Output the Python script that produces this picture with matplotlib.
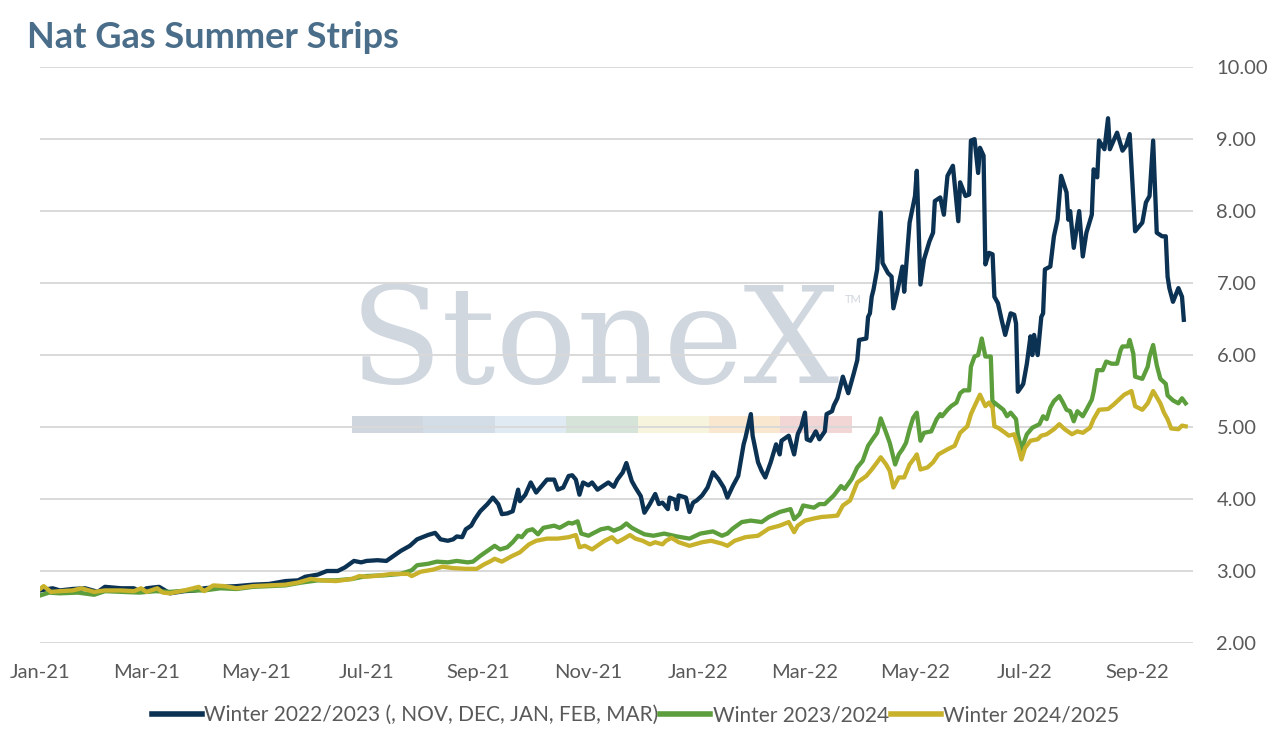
import pandas as pd
import matplotlib.pyplot as plt
import matplotlib.dates as mdates
from matplotlib.patches import Rectangle
from matplotlib.lines import Line2D

# Winter 2022/2023 strip
w22_dates = ["2021-01-01","2021-01-08","2021-01-12","2021-01-19","2021-01-26","2021-02-02","2021-02-06","2021-02-15",
             "2021-02-22","2021-02-26","2021-03-01","2021-03-08","2021-03-14","2021-03-22","2021-03-28","2021-04-02",
             "2021-04-11","2021-04-20","2021-04-29","2021-05-08","2021-05-17","2021-05-24","2021-05-28","2021-06-04",
             "2021-06-09","2021-06-15","2021-06-19","2021-06-24","2021-06-28","2021-07-01","2021-07-07","2021-07-12",
             "2021-07-16","2021-07-20","2021-07-25","2021-07-29","2021-08-04","2021-08-08","2021-08-11","2021-08-15",
             "2021-08-18","2021-08-20","2021-08-23","2021-08-25","2021-08-28","2021-08-30","2021-09-02","2021-09-06",
             "2021-09-09","2021-09-12","2021-09-14","2021-09-17","2021-09-20","2021-09-23","2021-09-24","2021-09-27",
             "2021-09-30","2021-10-03","2021-10-06","2021-10-09","2021-10-13","2021-10-15","2021-10-18","2021-10-21",
             "2021-10-23","2021-10-25","2021-10-27","2021-10-29","2021-11-01","2021-11-03","2021-11-06","2021-11-09",
             "2021-11-12","2021-11-15","2021-11-17","2021-11-20","2021-11-22","2021-11-25","2021-11-27","2021-11-30",
             "2021-12-02","2021-12-05","2021-12-08","2021-12-10","2021-12-12","2021-12-15","2021-12-16","2021-12-19",
             "2021-12-20","2021-12-21","2021-12-25","2021-12-27","2021-12-29","2021-12-31","2022-01-03","2022-01-06",
             "2022-01-09","2022-01-12","2022-01-15","2022-01-17","2022-01-20","2022-01-23","2022-01-26","2022-01-27",
             "2022-01-30","2022-01-31","2022-02-03","2022-02-05","2022-02-07","2022-02-10","2022-02-13","2022-02-15",
             "2022-02-16","2022-02-20","2022-02-23","2022-02-25","2022-02-27","2022-03-01","2022-03-02","2022-03-04",
             "2022-03-07","2022-03-09","2022-03-12","2022-03-13","2022-03-16","2022-03-17","2022-03-19","2022-03-22",
             "2022-03-25","2022-03-28","2022-03-30","2022-03-31","2022-04-04","2022-04-05","2022-04-06","2022-04-07",
             "2022-04-08","2022-04-10","2022-04-12","2022-04-13","2022-04-16","2022-04-18","2022-04-19","2022-04-21",
             "2022-04-24","2022-04-25","2022-04-28","2022-05-01","2022-05-02","2022-05-04","2022-05-06","2022-05-09",
             "2022-05-11","2022-05-12","2022-05-15","2022-05-17","2022-05-19","2022-05-22","2022-05-25","2022-05-26",
             "2022-05-29","2022-05-31","2022-06-01","2022-06-03","2022-06-05","2022-06-06","2022-06-08","2022-06-09",
             "2022-06-11","2022-06-13","2022-06-14","2022-06-16","2022-06-18","2022-06-20","2022-06-23","2022-06-25",
             "2022-06-26","2022-06-27","2022-06-29","2022-06-30","2022-07-02","2022-07-04","2022-07-05","2022-07-06",
             "2022-07-08","2022-07-10","2022-07-11","2022-07-12","2022-07-15","2022-07-17","2022-07-19","2022-07-21",
             "2022-07-24","2022-07-25","2022-07-26","2022-07-28","2022-07-31","2022-08-02","2022-08-04","2022-08-07",
             "2022-08-08","2022-08-10","2022-08-11","2022-08-14","2022-08-16","2022-08-17","2022-08-21","2022-08-24",
             "2022-08-26","2022-08-28","2022-08-31","2022-09-04","2022-09-06","2022-09-08","2022-09-10","2022-09-12",
             "2022-09-15","2022-09-17","2022-09-18","2022-09-19","2022-09-21","2022-09-24","2022-09-26","2022-09-27"]
w22_vals = [2.73,2.76,2.73,2.75,2.76,2.71,2.78,2.76,
            2.76,2.71,2.76,2.78,2.69,2.72,2.73,2.76,
            2.78,2.79,2.81,2.82,2.86,2.87,2.92,2.95,
            3.00,3.00,3.05,3.14,3.12,3.14,3.15,3.14,
            3.21,3.28,3.35,3.44,3.50,3.53,3.44,3.42,
            3.44,3.48,3.47,3.58,3.63,3.72,3.83,3.93,
            4.02,3.93,3.79,3.80,3.83,4.13,3.97,4.06,
            4.23,4.09,4.18,4.27,4.27,4.13,4.16,4.32,
            4.33,4.27,4.06,4.23,4.19,4.23,4.13,4.18,
            4.23,4.17,4.27,4.37,4.50,4.25,4.16,4.04,
            3.81,3.93,4.07,3.93,3.95,3.86,4.02,3.99,
            3.86,4.05,4.02,3.82,3.95,3.98,4.05,4.16,
            4.37,4.28,4.16,4.02,4.18,4.32,4.76,4.85,
            5.18,4.88,4.51,4.39,4.30,4.51,4.76,4.62,
            4.81,4.88,4.62,4.90,5.01,5.20,4.83,4.81,
            4.94,4.83,4.94,5.18,5.22,5.30,5.40,5.70,
            5.47,5.74,5.93,6.21,6.23,6.53,6.58,6.81,
            6.91,7.19,7.98,7.28,7.14,7.09,6.65,6.86,
            7.23,6.88,7.84,8.21,8.56,6.98,7.33,7.58,
            7.70,8.14,8.19,7.95,8.49,8.63,7.86,8.40,
            8.21,8.23,8.98,9.00,8.53,8.88,8.77,7.26,
            7.42,7.40,6.81,6.72,6.49,6.28,6.58,6.56,
            6.44,5.49,5.56,5.60,5.88,6.26,6.00,6.28,
            6.00,6.53,6.58,7.19,7.23,7.65,7.88,8.49,
            8.26,7.88,8.00,7.49,8.00,7.37,7.70,7.95,
            8.58,8.47,8.98,8.86,9.29,8.86,9.09,8.84,
            8.91,9.07,7.72,7.84,8.12,8.21,8.98,7.70,
            7.65,7.65,7.09,6.93,6.74,6.93,6.81,6.49]

# Winter 2023/2024 strip
w23_dates = ["2021-01-01","2021-01-06","2021-01-12","2021-01-22","2021-01-31","2021-02-06","2021-02-15","2021-02-25",
             "2021-03-06","2021-03-14","2021-03-24","2021-04-02","2021-04-11","2021-04-20","2021-04-29","2021-05-08",
             "2021-05-17","2021-05-26","2021-06-04","2021-06-14","2021-06-23","2021-07-01","2021-07-11","2021-07-20",
             "2021-07-26","2021-07-29","2021-08-04","2021-08-09","2021-08-15","2021-08-20","2021-08-26","2021-08-29",
             "2021-09-02","2021-09-06","2021-09-10","2021-09-13","2021-09-17","2021-09-20","2021-09-23","2021-09-25",
             "2021-09-28","2021-10-01","2021-10-04","2021-10-07","2021-10-13","2021-10-16","2021-10-21","2021-10-23",
             "2021-10-26","2021-10-28","2021-11-01","2021-11-04","2021-11-08","2021-11-12","2021-11-15","2021-11-19",
             "2021-11-22","2021-11-25","2021-11-28","2021-12-02","2021-12-07","2021-12-13","2021-12-20","2021-12-27",
             "2022-01-02","2022-01-09","2022-01-14","2022-01-17","2022-01-20","2022-01-25","2022-01-30","2022-02-05",
             "2022-02-09","2022-02-15","2022-02-18","2022-02-21","2022-02-23","2022-02-26","2022-02-28","2022-03-06",
             "2022-03-09","2022-03-12","2022-03-17","2022-03-21","2022-03-23","2022-03-27","2022-03-30","2022-04-02",
             "2022-04-05","2022-04-08","2022-04-10","2022-04-12","2022-04-15","2022-04-17","2022-04-20","2022-04-22",
             "2022-04-24","2022-04-26","2022-04-28","2022-04-30","2022-05-02","2022-05-04","2022-05-06","2022-05-10",
             "2022-05-13","2022-05-15","2022-05-16","2022-05-19","2022-05-21","2022-05-24","2022-05-26","2022-05-28",
             "2022-05-31","2022-06-01","2022-06-03","2022-06-05","2022-06-07","2022-06-09","2022-06-12","2022-06-13",
             "2022-06-14","2022-06-19","2022-06-21","2022-06-23","2022-06-26","2022-06-27","2022-06-29","2022-07-02",
             "2022-07-05","2022-07-09","2022-07-11","2022-07-13","2022-07-15","2022-07-17","2022-07-20","2022-07-22",
             "2022-07-24","2022-07-26","2022-07-28","2022-07-30","2022-08-02","2022-08-04","2022-08-07","2022-08-08",
             "2022-08-10","2022-08-13","2022-08-15","2022-08-18","2022-08-21","2022-08-23","2022-08-24","2022-08-27",
             "2022-08-28","2022-08-30","2022-08-31","2022-09-04","2022-09-07","2022-09-08","2022-09-10","2022-09-12",
             "2022-09-14","2022-09-17","2022-09-18","2022-09-21","2022-09-24","2022-09-26","2022-09-28"]
w23_vals = [2.66,2.70,2.69,2.70,2.67,2.72,2.71,2.70,
            2.72,2.71,2.73,2.73,2.76,2.75,2.78,2.79,
            2.80,2.84,2.87,2.87,2.89,2.93,2.94,2.96,
            3.01,3.08,3.10,3.13,3.12,3.14,3.12,3.13,
            3.21,3.28,3.35,3.30,3.33,3.40,3.49,3.47,
            3.56,3.58,3.51,3.60,3.63,3.60,3.67,3.66,
            3.69,3.52,3.49,3.53,3.58,3.60,3.56,3.60,
            3.66,3.60,3.56,3.51,3.49,3.52,3.48,3.45,
            3.52,3.55,3.49,3.52,3.59,3.68,3.70,3.68,
            3.75,3.82,3.84,3.86,3.72,3.79,3.91,3.88,
            3.93,3.93,4.05,4.18,4.14,4.28,4.44,4.53,
            4.74,4.85,4.92,5.12,4.92,4.78,4.48,4.62,
            4.69,4.78,4.97,5.13,5.20,4.81,4.92,4.94,
            5.11,5.18,5.15,5.24,5.29,5.34,5.47,5.51,
            5.51,5.84,5.98,6.00,6.23,5.98,5.98,5.28,
            5.34,5.24,5.15,5.20,5.11,4.90,4.69,4.90,
            4.99,5.04,5.15,5.11,5.27,5.36,5.43,5.34,
            5.24,5.22,5.08,5.22,5.15,5.24,5.38,5.49,
            5.79,5.79,5.91,5.88,5.88,6.07,6.12,6.12,
            6.21,6.02,5.70,5.67,5.84,5.98,6.14,5.86,
            5.67,5.60,5.44,5.37,5.33,5.40,5.33]

# Winter 2024/2025 strip
w24_dates = ["2021-01-01","2021-01-03","2021-01-07","2021-01-12","2021-01-19","2021-01-24","2021-01-31","2021-02-06",
             "2021-02-15","2021-02-22","2021-02-26","2021-03-01","2021-03-07","2021-03-10","2021-03-14","2021-03-22",
             "2021-03-30","2021-04-02","2021-04-07","2021-04-13","2021-04-20","2021-04-29","2021-05-08","2021-05-17",
             "2021-05-24","2021-05-31","2021-06-06","2021-06-14","2021-06-23","2021-06-27","2021-07-01","2021-07-09",
             "2021-07-15","2021-07-24","2021-07-26","2021-07-31","2021-08-07","2021-08-12","2021-08-18","2021-08-25",
             "2021-08-31","2021-09-04","2021-09-08","2021-09-10","2021-09-14","2021-09-19","2021-09-24","2021-09-29",
             "2021-10-03","2021-10-09","2021-10-15","2021-10-21","2021-10-25","2021-10-27","2021-10-30","2021-11-03",
             "2021-11-07","2021-11-10","2021-11-14","2021-11-17","2021-11-20","2021-11-24","2021-11-27","2021-12-01",
             "2021-12-05","2021-12-08","2021-12-12","2021-12-14","2021-12-17","2021-12-21","2021-12-27","2022-01-03",
             "2022-01-08","2022-01-14","2022-01-17","2022-01-21","2022-01-27","2022-02-03","2022-02-09","2022-02-15",
             "2022-02-20","2022-02-23","2022-02-25","2022-03-01","2022-03-06","2022-03-10","2022-03-15","2022-03-19",
             "2022-03-22","2022-03-26","2022-03-30","2022-04-04","2022-04-07","2022-04-10","2022-04-12","2022-04-15",
             "2022-04-17","2022-04-19","2022-04-22","2022-04-25","2022-04-28","2022-05-01","2022-05-02","2022-05-04",
             "2022-05-08","2022-05-11","2022-05-14","2022-05-19","2022-05-23","2022-05-26","2022-05-30","2022-06-01",
             "2022-06-03","2022-06-06","2022-06-09","2022-06-11","2022-06-13","2022-06-14","2022-06-16","2022-06-20",
             "2022-06-22","2022-06-25","2022-06-27","2022-06-29","2022-07-01","2022-07-04","2022-07-08","2022-07-10",
             "2022-07-13","2022-07-17","2022-07-20","2022-07-23","2022-07-27","2022-07-30","2022-08-02","2022-08-06",
             "2022-08-08","2022-08-11","2022-08-16","2022-08-19","2022-08-22","2022-08-25","2022-08-29","2022-08-31",
             "2022-09-04","2022-09-07","2022-09-10","2022-09-14","2022-09-16","2022-09-18","2022-09-20","2022-09-24",
             "2022-09-26","2022-09-28"]
w24_vals = [2.75,2.79,2.71,2.72,2.73,2.76,2.71,2.73,
            2.73,2.72,2.76,2.71,2.76,2.70,2.69,2.73,
            2.78,2.72,2.80,2.79,2.76,2.79,2.80,2.81,
            2.84,2.89,2.87,2.86,2.89,2.93,2.92,2.94,
            2.96,2.96,2.93,2.99,3.02,3.06,3.04,3.03,
            3.03,3.09,3.14,3.17,3.13,3.20,3.26,3.37,
            3.42,3.45,3.45,3.47,3.50,3.33,3.35,3.30,
            3.37,3.42,3.47,3.40,3.44,3.50,3.45,3.42,
            3.37,3.40,3.37,3.42,3.46,3.40,3.35,3.40,
            3.42,3.38,3.35,3.42,3.47,3.49,3.59,3.63,
            3.68,3.54,3.63,3.70,3.73,3.75,3.76,3.77,
            3.91,3.98,4.23,4.32,4.41,4.51,4.58,4.48,
            4.39,4.16,4.30,4.30,4.48,4.58,4.62,4.41,
            4.44,4.51,4.62,4.69,4.74,4.92,5.01,5.18,
            5.29,5.45,5.29,5.34,5.27,5.01,4.99,4.92,
            4.88,4.90,4.74,4.55,4.71,4.81,4.83,4.88,
            4.90,4.97,5.04,4.97,4.90,4.94,4.92,4.99,
            5.11,5.24,5.25,5.31,5.38,5.45,5.50,5.29,
            5.24,5.33,5.50,5.33,5.20,5.11,4.98,4.97,
            5.02,5.01]

series_names = ["Winter 2022/2023 (, NOV, DEC, JAN, FEB, MAR)", "Winter 2023/2024", "Winter 2024/2025"]
series_colors = ["#0c3253", "#5c9e3c", "#c8b22c"]
watermark_colors = ["#cfd6de", "#d2dde8", "#dfeaf3", "#d6e3d9", "#f6f4dd", "#f9e7cf", "#f2d6d6"]

plt.rcParams['font.family'] = ['Lato', 'DejaVu Sans']

fig = plt.figure(figsize=(12.71, 7.34), dpi=100)
ax = fig.add_axes([0.0315, 0.124, 0.907, 0.7845])
ax.set_facecolor('white')

for dates, vals, name, col in zip([w22_dates, w23_dates, w24_dates], [w22_vals, w23_vals, w24_vals],
                                  series_names, series_colors):
    ax.plot(pd.to_datetime(dates), vals, color=col, lw=3.1, label=name, zorder=3,
            solid_joinstyle='round')

# watermark
ax.text(350/1271, 1-383/734, "StoneX", transform=fig.transFigure, fontsize=97,
        family='DejaVu Serif', color='#d0d7df', zorder=0.1, ha='left', va='baseline')
ax.text(845/1271, 1-303/734, "TM", transform=fig.transFigure, fontsize=8,
        color='#d0d7df', zorder=0.1, ha='left', va='baseline')
seg_w = 71.4/1271
for i, c in enumerate(watermark_colors):
    ax.add_patch(Rectangle((352/1271 + i*seg_w, 1-433/734), seg_w, 17/734, transform=fig.transFigure,
                           facecolor=c, edgecolor='none', zorder=0.1))

ax.set_ylim(2, 10)
ax.set_xlim(pd.Timestamp("2021-01-01"), pd.Timestamp("2022-10-02"))
ax.set_yticks([2, 3, 4, 5, 6, 7, 8, 9, 10])
ax.yaxis.set_major_formatter(plt.FuncFormatter(lambda v, p: f"{v:.2f}"))
ax.yaxis.tick_right()
ax.xaxis.set_major_locator(mdates.MonthLocator(bymonth=[1, 3, 5, 7, 9, 11]))
ax.xaxis.set_major_formatter(mdates.DateFormatter("%b-%y"))
ax.tick_params(axis='both', length=0, labelsize=14.5, labelcolor='#595959')
ax.tick_params(axis='y', pad=17)
ax.tick_params(axis='x', pad=15)
ax.grid(axis='y', color='#d9d9d9', lw=1.4, zorder=0.5)
ax.set_axisbelow(True)
for s in ax.spines.values():
    s.set_visible(False)

fig.text(27/1271, 1-37/734, "Nat Gas Summer Strips", fontsize=26, fontweight='bold',
         color='#4a6e8a', ha='left', va='center')

handles = [Line2D([0], [0], color=c, lw=4) for c in series_colors]
fig.legend(handles, series_names, loc='center', bbox_to_anchor=(0.5, 1-715/734), ncol=3,
           frameon=False, fontsize=15, handlelength=2.4, handletextpad=0.1, columnspacing=0.1,
           labelcolor='#595959')

fig.savefig("out.png", dpi=100)
